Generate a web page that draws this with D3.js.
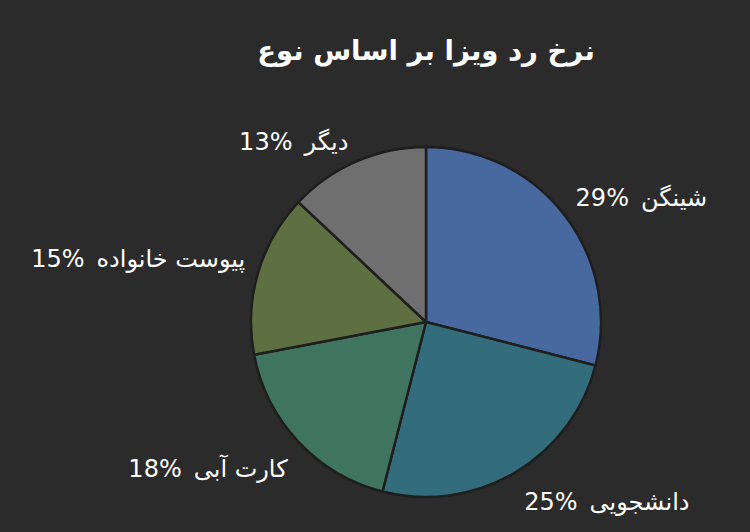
<!DOCTYPE html>
<html lang="fa">
<head>
<meta charset="utf-8">
<script src="https://cdn.jsdelivr.net/npm/d3@7"></script>
<style>
  html, body { margin: 0; padding: 0; background: #2b2b2b; }
  svg { display: block; }
  text { font-family: "DejaVu Sans", "Noto Sans", sans-serif; fill: #fff; }
</style>
</head>
<body>
<svg width="750" height="532"></svg>
<script>
// visa rejection rate by type
const title = 'نرخ رد ویزا بر اساس نوع';
const categories = ['شینگن', 'دانشجویی', 'کارت آبی', 'پیوست خانواده', 'دیگر'];
const values = [29, 25, 18, 15, 13];
const colors = ['#4868a0', '#336c7a', '#3f7560', '#5e7042', '#6f6f6f'];

const width = 750;
const height = 532;
const cx = 426;
const cy = 322;
const radius = 175;

const svg = d3.select('svg');

svg.append('rect')
  .attr('width', width)
  .attr('height', height)
  .attr('fill', '#2b2b2b');

svg.append('text')
  .attr('x', 426)
  .attr('y', 60)
  .attr('text-anchor', 'middle')
  .attr('direction', 'rtl')
  .attr('font-size', 27.5)
  .attr('font-weight', 'bold')
  .text(title);

const data = categories.map((c, i) => ({name: c, value: values[i], color: colors[i]}));

const pie = d3.pie()
  .value(d => d.value)
  .sort(null);

const arc = d3.arc()
  .innerRadius(0)
  .outerRadius(radius);

const g = svg.append('g')
  .attr('transform', `translate(${cx},${cy})`);

const arcs = pie(data);

g.selectAll('path')
  .data(arcs)
  .enter()
  .append('path')
  .attr('d', arc)
  .attr('fill', d => d.data.color)
  .attr('stroke', '#1e1e1e')
  .attr('stroke-width', 2.5)
  .attr('stroke-linejoin', 'round');

// outside-end labels, anchored just past the rim
const labelR = radius + 8;
g.selectAll('.label')
  .data(arcs)
  .enter()
  .append('text')
  .attr('class', 'label')
  .attr('font-size', 24)
  .attr('direction', 'rtl')
  .each(function(d) {
    const a = (d.startAngle + d.endAngle) / 2;
    const x = labelR * Math.sin(a);
    const y = -labelR * Math.cos(a);
    const right = x > 0;
    d3.select(this)
      .attr('x', right ? x + 5 : x - 5)
      .attr('y', y < 0 ? y - 4 : y + 30)
      .attr('text-anchor', right ? 'end' : 'start');
  })
  // en space before the value, LRM keeps "29%" in latin order
  .text(d => `${d.data.name}\u2002\u200E${d.data.value}%`);
</script>
</body>
</html>
